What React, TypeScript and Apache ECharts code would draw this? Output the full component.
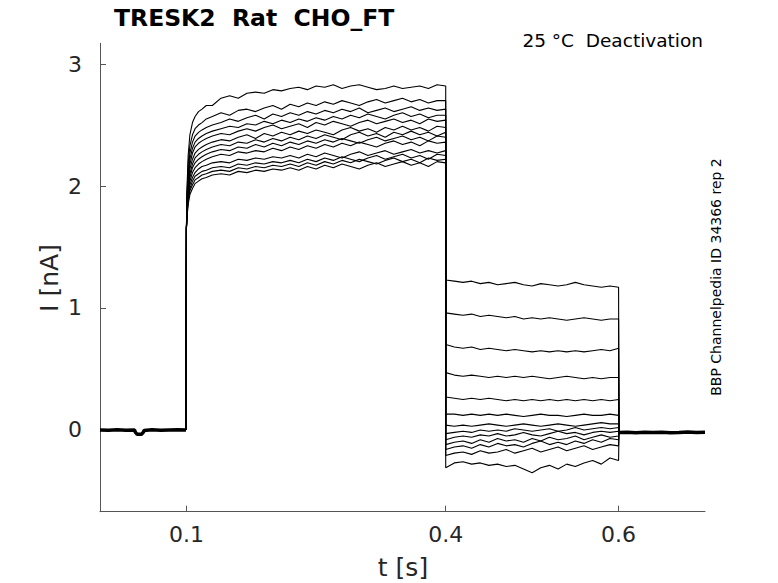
import React, { useEffect, useRef } from "react";
import * as echarts from "echarts";

// time points (s)
const preT = [0, 0.01, 0.02, 0.03, 0.04, 0.041, 0.043, 0.048, 0.05, 0.051, 0.06, 0.07, 0.08, 0.09, 0.0995];
const preI = [0.0, -0.003, 0.002, -0.002, 0.0, -0.02, -0.035, -0.035, -0.02, -0.005, 0.002, -0.003, 0.0, 0.002, 0.0];

const postT = [0.6005, 0.61, 0.62, 0.63, 0.64, 0.65, 0.66, 0.67, 0.68, 0.69, 0.7];
const postI = [-0.02, -0.018, -0.022, -0.019, -0.021, -0.018, -0.022, -0.02, -0.017, -0.021, -0.019];

const actT = [0.1, 0.1005, 0.102, 0.104, 0.107, 0.11, 0.114, 0.118, 0.123, 0.13,
  0.14, 0.15, 0.16, 0.17, 0.18, 0.19, 0.2, 0.21, 0.22, 0.23,
  0.24, 0.25, 0.26, 0.27, 0.28, 0.29, 0.3, 0.31, 0.32, 0.33,
  0.34, 0.35, 0.36, 0.37, 0.38, 0.39, 0.4];

const deactT = [0.4, 0.41, 0.42, 0.43, 0.44, 0.45, 0.46, 0.47, 0.48, 0.49, 0.5,
  0.51, 0.52, 0.53, 0.54, 0.55, 0.56, 0.57, 0.58, 0.59, 0.6];

// activation currents (nA), one array per sweep
const act1 = [1.65, 1.95, 2.25, 2.42, 2.52, 2.57, 2.61, 2.63, 2.66, 2.66, 2.72, 2.74, 2.72, 2.76, 2.77, 2.76, 2.79, 2.78, 2.80, 2.81, 2.79, 2.82, 2.81, 2.83, 2.80, 2.82, 2.83, 2.81, 2.79, 2.80, 2.82, 2.80, 2.81, 2.82, 2.80, 2.83, 2.82];
const act2 = [1.65, 1.90, 2.18, 2.33, 2.42, 2.47, 2.50, 2.52, 2.55, 2.57, 2.60, 2.58, 2.62, 2.63, 2.61, 2.64, 2.66, 2.63, 2.67, 2.65, 2.68, 2.66, 2.69, 2.67, 2.70, 2.68, 2.66, 2.69, 2.71, 2.68, 2.70, 2.72, 2.69, 2.71, 2.68, 2.70, 2.70];
const act3 = [1.65, 1.87, 2.12, 2.27, 2.36, 2.41, 2.44, 2.46, 2.48, 2.50, 2.52, 2.55, 2.53, 2.56, 2.58, 2.55, 2.59, 2.57, 2.60, 2.58, 2.61, 2.59, 2.62, 2.60, 2.63, 2.61, 2.64, 2.60, 2.62, 2.64, 2.61, 2.63, 2.65, 2.62, 2.64, 2.62, 2.63];
const act4 = [1.65, 1.85, 2.08, 2.22, 2.31, 2.36, 2.39, 2.41, 2.43, 2.45, 2.47, 2.49, 2.48, 2.51, 2.50, 2.53, 2.51, 2.54, 2.52, 2.55, 2.53, 2.56, 2.54, 2.57, 2.55, 2.58, 2.56, 2.59, 2.57, 2.55, 2.58, 2.60, 2.57, 2.59, 2.56, 2.58, 2.58];
const act5 = [1.65, 1.83, 2.04, 2.18, 2.27, 2.32, 2.35, 2.37, 2.39, 2.41, 2.43, 2.42, 2.45, 2.47, 2.45, 2.48, 2.50, 2.47, 2.49, 2.51, 2.48, 2.52, 2.50, 2.53, 2.51, 2.49, 2.52, 2.54, 2.51, 2.53, 2.55, 2.52, 2.54, 2.51, 2.55, 2.53, 2.54];
const act6 = [1.65, 1.81, 2.01, 2.14, 2.22, 2.27, 2.30, 2.32, 2.34, 2.36, 2.38, 2.37, 2.40, 2.42, 2.39, 2.43, 2.41, 2.44, 2.42, 2.45, 2.43, 2.46, 2.44, 2.42, 2.46, 2.48, 2.45, 2.47, 2.44, 2.48, 2.46, 2.49, 2.46, 2.48, 2.45, 2.49, 2.48];
const act7 = [1.65, 1.79, 1.98, 2.10, 2.18, 2.23, 2.26, 2.28, 2.30, 2.32, 2.34, 2.33, 2.36, 2.35, 2.38, 2.36, 2.39, 2.37, 2.40, 2.38, 2.41, 2.39, 2.42, 2.40, 2.38, 2.42, 2.44, 2.41, 2.43, 2.40, 2.44, 2.42, 2.45, 2.42, 2.44, 2.41, 2.44];
const act8 = [1.65, 1.78, 1.95, 2.07, 2.15, 2.19, 2.22, 2.24, 2.26, 2.28, 2.30, 2.29, 2.32, 2.31, 2.34, 2.32, 2.35, 2.33, 2.36, 2.34, 2.37, 2.35, 2.38, 2.36, 2.39, 2.37, 2.35, 2.38, 2.40, 2.37, 2.39, 2.41, 2.38, 2.40, 2.37, 2.41, 2.40];
const act9 = [1.65, 1.77, 1.93, 2.04, 2.11, 2.15, 2.18, 2.20, 2.22, 2.24, 2.26, 2.25, 2.28, 2.27, 2.29, 2.28, 2.31, 2.29, 2.32, 2.30, 2.33, 2.31, 2.34, 2.32, 2.35, 2.33, 2.36, 2.34, 2.32, 2.35, 2.37, 2.34, 2.36, 2.33, 2.37, 2.35, 2.36];
const act10 = [1.65, 1.76, 1.91, 2.01, 2.07, 2.11, 2.14, 2.16, 2.17, 2.19, 2.20, 2.19, 2.22, 2.21, 2.23, 2.22, 2.24, 2.23, 2.25, 2.23, 2.26, 2.24, 2.27, 2.25, 2.23, 2.26, 2.28, 2.25, 2.27, 2.29, 2.26, 2.28, 2.30, 2.27, 2.29, 2.27, 2.29];
const act11 = [1.65, 1.75, 1.89, 1.98, 2.04, 2.08, 2.10, 2.12, 2.13, 2.15, 2.16, 2.15, 2.18, 2.17, 2.19, 2.18, 2.20, 2.19, 2.21, 2.19, 2.22, 2.20, 2.23, 2.21, 2.24, 2.22, 2.20, 2.23, 2.25, 2.22, 2.24, 2.26, 2.23, 2.25, 2.22, 2.26, 2.25];
const act12 = [1.65, 1.74, 1.87, 1.96, 2.01, 2.05, 2.07, 2.09, 2.10, 2.12, 2.13, 2.12, 2.15, 2.14, 2.16, 2.15, 2.17, 2.16, 2.18, 2.16, 2.19, 2.17, 2.20, 2.18, 2.21, 2.19, 2.22, 2.20, 2.18, 2.21, 2.23, 2.20, 2.22, 2.19, 2.23, 2.21, 2.22];
const act13 = [1.65, 1.73, 1.85, 1.93, 1.98, 2.02, 2.04, 2.06, 2.07, 2.09, 2.10, 2.09, 2.12, 2.11, 2.13, 2.12, 2.14, 2.13, 2.15, 2.13, 2.16, 2.14, 2.17, 2.15, 2.18, 2.16, 2.14, 2.17, 2.19, 2.16, 2.18, 2.20, 2.17, 2.19, 2.16, 2.20, 2.19];

// deactivation (tail) currents (nA), one array per sweep
const deact1 = [1.23, 1.22, 1.21, 1.22, 1.20, 1.21, 1.19, 1.20, 1.21, 1.19, 1.18, 1.20, 1.19, 1.18, 1.19, 1.21, 1.19, 1.18, 1.17, 1.18, 1.17];
const deact2 = [0.96, 0.95, 0.94, 0.95, 0.93, 0.94, 0.93, 0.92, 0.93, 0.91, 0.92, 0.91, 0.92, 0.91, 0.90, 0.91, 0.92, 0.91, 0.90, 0.91, 0.91];
const deact3 = [0.70, 0.68, 0.67, 0.68, 0.66, 0.67, 0.66, 0.65, 0.66, 0.65, 0.64, 0.65, 0.64, 0.65, 0.64, 0.65, 0.64, 0.65, 0.66, 0.65, 0.67];
const deact4 = [0.47, 0.45, 0.44, 0.45, 0.44, 0.43, 0.44, 0.43, 0.44, 0.43, 0.44, 0.43, 0.42, 0.43, 0.44, 0.43, 0.42, 0.43, 0.42, 0.43, 0.43];
const deact5 = [0.27, 0.26, 0.25, 0.26, 0.25, 0.26, 0.25, 0.24, 0.25, 0.24, 0.25, 0.24, 0.25, 0.24, 0.25, 0.24, 0.25, 0.24, 0.25, 0.24, 0.25];
const deact6 = [0.13, 0.13, 0.12, 0.13, 0.12, 0.13, 0.12, 0.13, 0.12, 0.11, 0.12, 0.13, 0.12, 0.12, 0.11, 0.12, 0.13, 0.12, 0.12, 0.13, 0.12];
const deact7 = [0.04, 0.03, 0.04, 0.03, 0.04, 0.05, 0.04, 0.03, 0.04, 0.05, 0.04, 0.03, 0.04, 0.05, 0.04, 0.03, 0.04, 0.05, 0.06, 0.05, 0.05];
const deact8 = [-0.03, -0.02, -0.01, -0.02, 0.00, -0.01, 0.00, -0.01, 0.01, 0.00, -0.01, 0.00, 0.01, -0.01, 0.00, 0.02, 0.00, 0.01, 0.02, 0.01, 0.02];
const deact9 = [-0.08, -0.06, -0.05, -0.06, -0.04, -0.05, -0.03, -0.05, -0.04, -0.02, -0.04, -0.05, -0.03, -0.01, -0.03, -0.02, -0.04, -0.02, -0.01, -0.02, -0.01];
const deact10 = [-0.12, -0.10, -0.09, -0.11, -0.08, -0.10, -0.07, -0.09, -0.08, -0.10, -0.07, -0.09, -0.06, -0.08, -0.07, -0.05, -0.08, -0.06, -0.04, -0.06, -0.05];
const deact11 = [-0.16, -0.14, -0.13, -0.15, -0.12, -0.14, -0.11, -0.13, -0.12, -0.14, -0.11, -0.09, -0.12, -0.10, -0.12, -0.09, -0.11, -0.08, -0.10, -0.07, -0.08];
const deact12 = [-0.21, -0.19, -0.18, -0.20, -0.17, -0.19, -0.18, -0.16, -0.19, -0.17, -0.15, -0.18, -0.16, -0.14, -0.17, -0.15, -0.13, -0.16, -0.14, -0.12, -0.13];
const deact13 = [-0.31, -0.27, -0.26, -0.28, -0.27, -0.29, -0.28, -0.30, -0.29, -0.32, -0.35, -0.31, -0.29, -0.32, -0.28, -0.30, -0.27, -0.25, -0.28, -0.23, -0.25];

const activations = [act1, act2, act3, act4, act5, act6, act7, act8, act9, act10, act11, act12, act13];
const deactivations = [deact1, deact2, deact3, deact4, deact5, deact6, deact7, deact8, deact9, deact10, deact11, deact12, deact13];

const xTicks = [0.1, 0.4, 0.6];
const yTicks = [0, 1, 2, 3];

const FONT = '"DejaVu Sans", "Liberation Sans", sans-serif';

export default function App() {
  const ref = useRef<HTMLDivElement>(null);
  useEffect(() => {
    if (!ref.current) return;
    const chart = echarts.init(ref.current, undefined, { renderer: "svg" });
    const traceSeries = activations.map((act, k) => {
      const data: number[][] = [[preT[preT.length - 1], preI[preI.length - 1]]];
      actT.forEach((t, i) => data.push([t, act[i]]));
      deactT.forEach((t, i) => data.push([t, deactivations[k][i]]));
      data.push([postT[0], postI[0]]);
      return {
        type: "line",
        data,
        showSymbol: false,
        silent: true,
        lineStyle: { color: "#000", width: 1.1 },
      };
    });
    const bundle = (ts: number[], vs: number[]) => ({
      type: "line",
      data: ts.map((t, i) => [t, vs[i]]),
      showSymbol: false,
      silent: true,
      lineStyle: { color: "#000", width: 3.5 },
    });
    const axisColor = "#555";
    chart.setOption({
      animation: false,
      grid: { left: 100, top: 43.3, width: 605, height: 468.4 },
      xAxis: {
        type: "value",
        min: 0,
        max: 0.7,
        axisLine: { show: true, onZero: false, lineStyle: { color: axisColor, width: 1 } },
        axisTick: { show: true, inside: true, length: 6, customValues: xTicks, lineStyle: { color: axisColor } },
        axisLabel: { customValues: xTicks, fontSize: 22, color: "#262626", fontFamily: FONT, margin: 12 },
        splitLine: { show: false },
      },
      yAxis: {
        type: "value",
        min: -0.67,
        max: 3.17,
        axisLine: { show: true, onZero: false, lineStyle: { color: axisColor, width: 1 } },
        axisTick: { show: true, inside: true, length: 6, customValues: yTicks, lineStyle: { color: axisColor } },
        axisLabel: { customValues: yTicks, fontSize: 22, color: "#262626", fontFamily: FONT, margin: 18 },
        splitLine: { show: false },
      },
      graphic: [
        {
          type: "text", x: 114, y: 18,
          style: { text: "TRESK2  Rat  CHO_FT", font: `bold 23.5px ${FONT}`, fill: "#000", align: "left", verticalAlign: "middle" },
        },
        {
          type: "text", x: 703, y: 40,
          style: { text: "25 °C  Deactivation", font: `18.5px ${FONT}`, fill: "#000", align: "right", verticalAlign: "middle" },
        },
        {
          type: "text", x: 716, y: 277, rotation: Math.PI / 2,
          style: { text: "BBP Channelpedia ID 34366 rep 2", font: `14px ${FONT}`, fill: "#000", align: "center", verticalAlign: "middle" },
        },
        {
          type: "text", x: 49, y: 278, rotation: Math.PI / 2,
          style: { text: "I [nA]", font: `25px ${FONT}`, fill: "#262626", align: "center", verticalAlign: "middle" },
        },
        {
          type: "text", x: 403, y: 567,
          style: { text: "t [s]", font: `25px ${FONT}`, fill: "#262626", align: "center", verticalAlign: "middle" },
        },
      ],
      series: [bundle(preT, preI), bundle(postT, postI), ...traceSeries],
    });
    return () => chart.dispose();
  }, []);
  return <div ref={ref} style={{ position: "fixed", left: 0, top: 0, width: 778, height: 583, background: "#fff" }} />;
}
